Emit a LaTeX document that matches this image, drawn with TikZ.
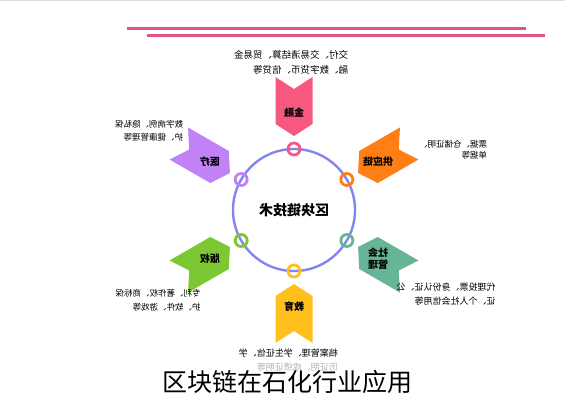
\documentclass[tikz,border=0pt]{standalone}
\usepackage{fontspec}
\setmainfont{Noto Sans CJK SC}
\usetikzlibrary{positioning}
\definecolor{jinrong}{RGB}{246,88,128}
\definecolor{gongying}{RGB}{255,126,22}
\definecolor{shehui}{RGB}{102,181,150}
\definecolor{jiaoyu}{RGB}{255,192,30}
\definecolor{banquan}{RGB}{124,200,50}
\definecolor{yiliao}{RGB}{192,130,245}
\definecolor{hubline}{RGB}{132,132,240}
\definecolor{topline}{RGB}{226,84,130}
\tikzset{mirror/.style = {xscale=-1}}
\tikzset{armlabel/.style = {mirror, align=center, inner sep=1,
                            font=\bfseries\fontsize{10}{12}\selectfont}}
\tikzset{armtext/.style = {mirror, align=left, inner sep=1,
                           font=\fontsize{9}{14}\selectfont}}
\tikzset{ring/.style = {circle, line width=2.8, inner sep=0, minimum size=12}}
\tikzset{hub/.style = {draw=hubline, line width=2.4}}

\begin{document}
\begin{tikzpicture}[x=1pt, y=1pt]
    \useasboundingbox (0, 0) rectangle (565, 400);

    \draw [gray!25, line width=1] (0, 399.5) -- (565, 399.5);
    \draw [topline, line width=3] (127, 371) -- (526, 371);
    \draw [topline, line width=3] (147, 364) -- (545, 364);

    \node [mirror, font=\bfseries\fontsize{14}{14}\selectfont] (core) at (294, 190) {区块链技术};

    % arms
    \foreach \ang/\col/\lab [count=\i] in {90/jinrong/金融, 30/gongying/供应链,
                                           -30/shehui/{社会\\管理}, -90/jiaoyu/教育,
                                           210/banquan/版权, 150/yiliao/医疗} {
        \begin{scope}[shift={(core.center)}, rotate=\ang]
            \fill [\col] (74, 0) -- (86, 18.5) -- (133, 18.5) -- (121, 0)
                         -- (133, -18.5) -- (86, -18.5) -- cycle;
        \end{scope}
        \node [armlabel] (arm\i) at ([shift={(\ang:97)}]core.center) {\lab};
    }

    \draw [hub] (core.center) circle [radius=61];

    \foreach \ang/\col [count=\i] in {90/jinrong, 30/gongying, -30/shehui,
                                      -90/jiaoyu, 210/banquan, 150/yiliao}
        \node [ring, draw=\col] (ring\i) at ([shift={(\ang:61)}]core.center) {};

    \node [armtext, font=\fontsize{9.5}{15}\selectfont] (txt1) at (291, 338)
        {交付、交易清结算、贸易金\\融、数字货币、信贷等};
    \node [armtext, font=\fontsize{8.5}{11}\selectfont] (txt2) at (453, 250)
        {票据、仓储证明、\\单据等};
    \node [armtext] (txt3) at (446, 106)
        {代理投票、身份认证、公\\证、个人社会信用等};
    \node [armtext, font=\fontsize{8.5}{14}\selectfont] (txt5) at (158, 100)
        {专利、著作权、商标保\\护、软件、游戏等};
    \node [armtext, font=\fontsize{8.5}{13}\selectfont] (txt6) at (149, 269)
        {数字病例、隐私保\\护、健康管理等};
    \node [armtext, anchor=north west] (txt4) at (339, 52)
        {档案管理、学生征信、学};
    \node [armtext, anchor=north west, text=black!30] (txt4b) at (339, 38)
        {历证明、成绩证明等};

    \node [font=\fontsize{25}{25}\selectfont] (title) at (287, 18) {区块链在石化行业应用};
\end{tikzpicture}
\end{document}
